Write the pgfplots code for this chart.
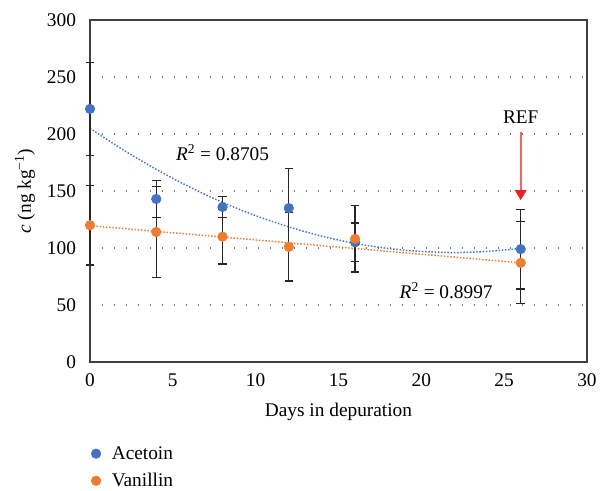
\documentclass[border=0pt]{standalone}
\usepackage{fontspec}
\setmainfont{Liberation Serif}
\usepackage{pgfplots}
\pgfplotsset{compat=1.18}
\usetikzlibrary{arrows.meta}
\definecolor{acet}{HTML}{4472C4}
\definecolor{vani}{HTML}{ED7D31}
\definecolor{refline}{HTML}{F06464}
\definecolor{refhead}{HTML}{E8202A}

% value, error
\pgfplotstableread{
x   y    e
0   222  41
4   143  16
8   136  9
12  135  35
16  105  17
26  99   35
}\acetoin
\pgfplotstableread{
x   y    e
0   120  35
4   114  40
8   110  24
12  101  30
16  108  29
26  87   36
}\vanillin

\begin{document}
\begin{tikzpicture}
\useasboundingbox (-67.5pt,-96.75pt) rectangle (383.25pt,271.5pt);
\begin{axis}[
  at={(0pt,0pt)}, anchor=south west,
  scale only axis,
  width=372.75pt, height=256.5pt,
  xmin=0, xmax=30, ymin=0, ymax=300,
  xtick={0,5,...,30}, ytick={0,50,...,300},
  major tick length=0pt,
  axis line style={black!75, line width=0.8pt},
  font=\fontsize{14.5}{17}\selectfont,
  /pgf/number format/assume math mode=true,
  xticklabel style={yshift=-5pt},
  yticklabel style={xshift=-7pt},
  ymajorgrids,
  grid style={black!55, line width=0.9pt, dash pattern=on 0.9pt off 8.1pt},
  xlabel={Days in depuration},
  ylabel={\textit{c} (ng kg\textsuperscript{−1})},
  xlabel style={yshift=-6pt},
  ylabel style={yshift=2pt},
  clip=false,
  legend style={at={(rel axis cs:-0.006,-0.23)}, anchor=north west, draw=none,
    fill=none, font=\fontsize{14.5}{17}\selectfont, row sep=5pt,
    legend cell align=left},
  legend image code/.code={\draw[#1] plot coordinates {(0cm,0cm)}; \path (9.6pt,0pt);},
]
% trendlines
\addplot[acet, line width=1.1pt, dash pattern=on 1.1pt off 1.3pt, smooth, forget plot]
  coordinates {(0,205) (2,186.1) (4,169) (6,153.6) (8,140) (10,128.4) (12,118.5)
  (14,110.4) (16,104) (18,99.6) (20,97) (22,96) (24,97) (26,99.6)};
\addplot[vani, line width=1.1pt, dash pattern=on 1.1pt off 1.3pt, forget plot]
  coordinates {(0,119.6) (26,87)};
% data with error bars
\addplot[only marks, mark=*, mark size=3.6pt, mark options={acet, draw=acet},
  error bars/.cd, y dir=both, y explicit,
  error bar style={black!85, line width=0.9pt},
  error mark options={rotate=90, mark size=3.2pt, black!85, line width=0.9pt}]
  table[x=x, y=y, y error=e] {\acetoin};
\addlegendentry{Acetoin}
\addplot[only marks, mark=*, mark size=3.6pt, mark options={vani, draw=vani},
  error bars/.cd, y dir=both, y explicit,
  error bar style={black!85, line width=0.9pt},
  error mark options={rotate=90, mark size=3.2pt, black!85, line width=0.9pt}]
  table[x=x, y=y, y error=e] {\vanillin};
\addlegendentry{Vanillin}
% annotations
\node[font=\fontsize{14.5}{17}\selectfont] at (axis cs:8,184) {\textit{R}\textsuperscript{2} = 0.8705};
\node[font=\fontsize{14.5}{17}\selectfont] at (axis cs:21.5,63) {\textit{R}\textsuperscript{2} = 0.8997};
\node[font=\fontsize{14.5}{17}\selectfont] at (axis cs:26,215) {REF};
\draw[refline, line width=1.2pt] (axis cs:26,201.5) -- (axis cs:26,150);
\fill[refhead] (axis cs:26,142) -- ++(-4.5pt,7.5pt) -- ++(9pt,0) -- cycle;
\end{axis}
\end{tikzpicture}
\end{document}
